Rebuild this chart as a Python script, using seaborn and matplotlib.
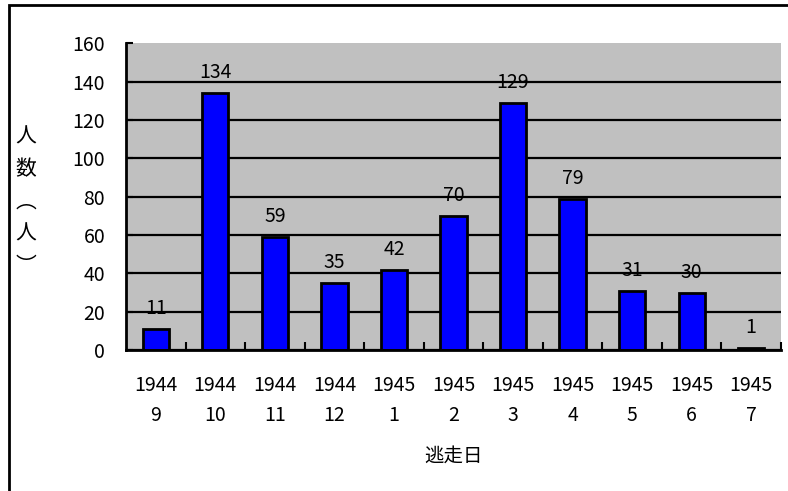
import pandas as pd
import matplotlib
matplotlib.use("Agg")
import matplotlib.pyplot as plt
import seaborn as sns
from matplotlib.patches import Rectangle

years = ["1944", "1944", "1944", "1944", "1945", "1945", "1945", "1945", "1945", "1945", "1945"]
months = ["9", "10", "11", "12", "1", "2", "3", "4", "5", "6", "7"]
counts = [11, 134, 59, 35, 42, 70, 129, 79, 31, 30, 1]

sns.set_theme(style="white")
plt.rcParams['font.family'] = ['Noto Sans CJK JP', 'DejaVu Sans']

labels = [f"{y}\n{m}" for y, m in zip(years, months)]
df = pd.DataFrame({"date": labels, "count": counts})

fig = plt.figure(figsize=(7.88, 4.91), dpi=100)
ax = fig.add_axes([0.160, 0.287, 0.831, 0.625])
ax.set_facecolor("#C0C0C0")

sns.barplot(data=df, x="date", y="count", ax=ax, color="#0000FF", saturation=1,
            edgecolor="black", linewidth=2, width=0.44)

ax.set_ylim(0, 160)
ax.set_xlim(-0.5, len(labels) - 0.5)
ax.set_yticks(range(0, 161, 20))
ax.yaxis.grid(True, color="black", linewidth=1.6)
ax.set_axisbelow(True)
ax.get_ygridlines()[-1].set_visible(False)

for side in ["top", "right"]:
    ax.spines[side].set_visible(False)
for side in ["left", "bottom"]:
    ax.spines[side].set_color("black")
    ax.spines[side].set_linewidth(2)

fs = 14
ax.tick_params(axis="y", direction="in", length=5, width=1.5, pad=15, labelsize=fs, colors="black", left=True)
ax.tick_params(axis="x", length=0, pad=18, labelsize=fs, colors="black")
for t in ax.get_xticklabels():
    t.set_linespacing(1.55)
ax.set_xticks([i + 0.5 for i in range(len(labels))], minor=True)
ax.tick_params(axis="x", which="minor", direction="in", length=6, width=1.5, bottom=True, color="black")

for c in ax.containers:
    ax.bar_label(c, padding=7, fontsize=fs, color="black")

ax.set_xlabel("逃走日", fontsize=fs, color="black", labelpad=14)
ax.set_ylabel("人\n数\n︵\n人\n︶", rotation=0, fontsize=15, color="black",
              va="center", ha="center", linespacing=1.6)
ax.yaxis.set_label_coords(-0.153, 0.485)

fig.patches.append(Rectangle((8.5 / 788, -0.1), 1.2, 1.1 - 5 / 491, transform=fig.transFigure,
                             fill=False, edgecolor="black", linewidth=2))

fig.savefig("out.png", dpi=100)
plt.close(fig)
